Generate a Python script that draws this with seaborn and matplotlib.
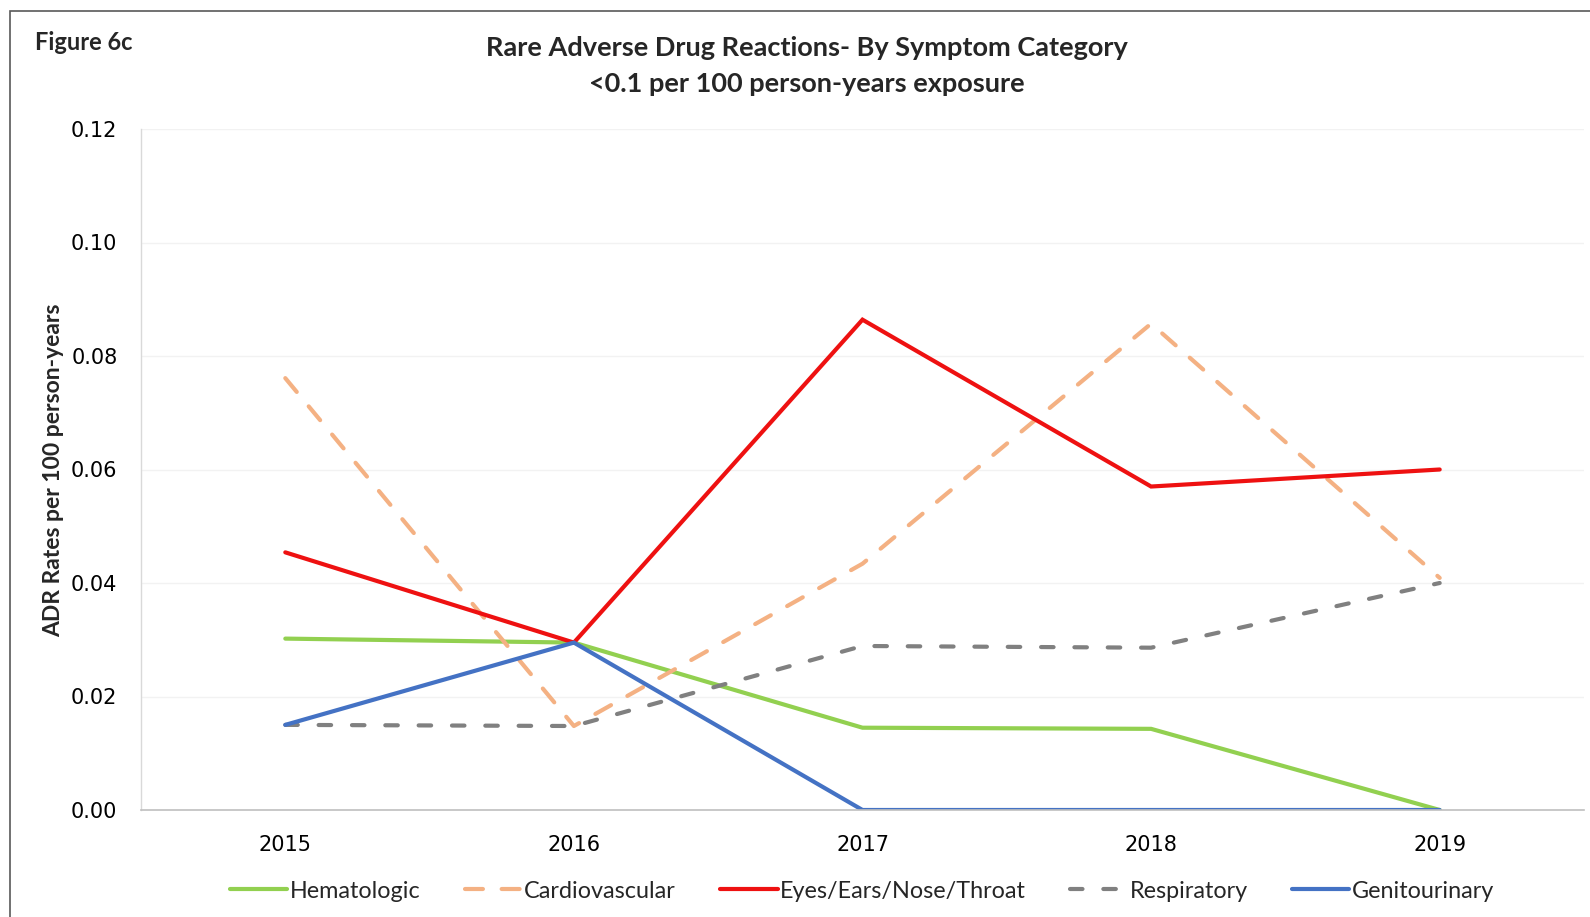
import matplotlib
matplotlib.use("Agg")
import matplotlib.pyplot as plt
from matplotlib.patches import Rectangle
import pandas as pd
import seaborn as sns

# ADR rates per 100 person-years, by symptom category
years = ["2015", "2016", "2017", "2018", "2019"]
hematologic = [0.0302, 0.0295, 0.0145, 0.0143, 0.0]
cardiovascular = [0.0761, 0.0148, 0.0434, 0.0857, 0.0409]
eyes_ears_nose_throat = [0.0454, 0.0295, 0.0864, 0.0570, 0.0600]
respiratory = [0.0150, 0.0148, 0.0289, 0.0286, 0.0400]
genitourinary = [0.0150, 0.0295, 0.0, 0.0, 0.0]

categories = ["Hematologic", "Cardiovascular", "Eyes/Ears/Nose/Throat",
              "Respiratory", "Genitourinary"]
series = [hematologic, cardiovascular, eyes_ears_nose_throat,
          respiratory, genitourinary]
colors = ["#92D050", "#F4B183", "#EE1111", "#808080", "#4472C4"]

rows = []
for cat, vals in zip(categories, series):
    for i, (yr, v) in enumerate(zip(years, vals)):
        rows.append({"pos": i, "year": yr, "category": cat, "rate": v})
df = pd.DataFrame(rows)

sns.set_theme(style="white")
plt.rcParams["font.family"] = ["DejaVu Sans"]

W, H = 1590, 917
fig = plt.figure(figsize=(W / 100, H / 100), dpi=100)
ax = fig.add_axes([141 / W, 1 - 810 / H, (1584 - 141) / W, (810 - 129) / H])

palette = dict(zip(categories, colors))
dashes = {
    "Hematologic": "",
    "Cardiovascular": (4.3, 4.5),
    "Eyes/Ears/Nose/Throat": "",
    "Respiratory": (3.0, 5.0),
    "Genitourinary": "",
}

LW = 3.0
sns.lineplot(data=df, x="pos", y="rate", hue="category", style="category",
             hue_order=categories, style_order=categories,
             palette=palette, dashes=dashes, linewidth=LW,
             dash_capstyle="round", solid_capstyle="round",
             solid_joinstyle="miter", ax=ax, legend=True)

ax.set_xlim(-0.5, 4.5)
ax.set_ylim(0, 0.12)
ax.set_xticks(range(len(years)))
ax.set_xticklabels(years)
ax.set_yticks([0, 0.02, 0.04, 0.06, 0.08, 0.10, 0.12])
ax.set_yticklabels([f"{v:.2f}" for v in ax.get_yticks()])
ax.tick_params(axis="both", length=0, labelsize=15, colors="#000000")
ax.tick_params(axis="y", pad=17)
ax.tick_params(axis="x", pad=18)
ax.grid(axis="y", color="#F2F2F2", linewidth=1.0)
ax.set_axisbelow(True)
for side in ["top", "right"]:
    ax.spines[side].set_visible(False)
ax.spines["left"].set_color("#D9D9D9")
ax.spines["left"].set_linewidth(1.0)
ax.spines["bottom"].set_color("#BFBFBF")
ax.spines["bottom"].set_linewidth(1.2)
ax.set_xlabel("")
ax.set_ylabel("")

# legend along the bottom
handles, labels = ax.get_legend_handles_labels()
ax.get_legend().remove()
for h in handles:
    h.set_linewidth(LW)
    h.set_dash_capstyle("round")
    h.set_solid_capstyle("round")
leg = fig.legend(handles, labels, loc="center", bbox_to_anchor=(862 / W, 1 - 891 / H),
                 ncol=5, frameon=False, handlelength=2.45, handletextpad=0.1,
                 columnspacing=1.9, prop={"family": "Lato", "size": 16.8})

# titles and axis label
fig.text(807 / W, 1 - 48 / H, "Rare Adverse Drug Reactions- By Symptom Category",
         ha="center", va="center", fontsize=19.5, fontweight="bold", family="Lato")
fig.text(807 / W, 1 - 84 / H, "<0.1 per 100 person-years exposure",
         ha="center", va="center", fontsize=19.5, fontweight="bold", family="Lato")
fig.text(35 / W, 1 - 43 / H, "Figure 6c", ha="left", va="center",
         fontsize=17, fontweight="bold", family="Lato")
fig.text(54 / W, 1 - 470 / H, "ADR Rates per 100 person-years", rotation=90,
         ha="center", va="center", fontsize=16.5, fontweight="bold", family="Lato")

# frame around the figure panel
fig.add_artist(Rectangle((10 / W, -0.05), 1.2, 1 - 11 / H + 0.05,
                         transform=fig.transFigure, fill=False,
                         edgecolor="#595959", linewidth=1.2))

fig.savefig("out.png", dpi=100)
